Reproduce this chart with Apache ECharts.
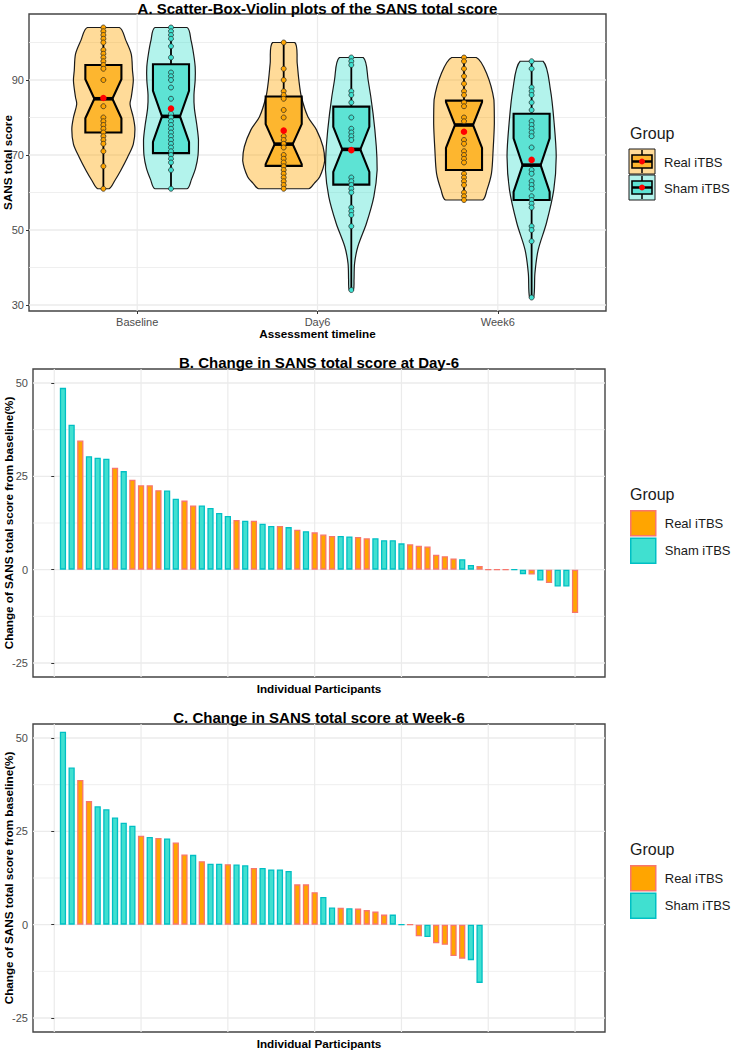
<!DOCTYPE html>
<html><head><meta charset="utf-8">
<script src="https://cdn.jsdelivr.net/npm/echarts@6/dist/echarts.min.js"></script>
<style>html,body{margin:0;padding:0;background:#fff}#c{width:733px;height:1050px}</style>
</head><body><div id="c"></div>
<script>
// ================= DATA =================
const timeLabels = ['Baseline', 'Day6', 'Week6'];
const groupLabels = ['Real iTBS', 'Sham iTBS'];

// Panel A - individual SANS total scores (dots)
const realScoresBaseline = [104, 103, 102, 101, 100, 98, 97, 96, 95, 94, 93, 90, 83, 80, 79, 78, 77, 76, 75, 74, 73, 71, 67, 61];
const realScoresDay6 = [100, 93, 90, 87, 86, 85, 82, 80, 75, 74, 73, 72, 70, 69, 68, 67, 66, 65, 64, 63, 62, 61];
const realScoresWeek6 = [96, 95, 93, 91, 89, 87, 86, 84, 83, 80, 79, 74, 73, 71, 70, 69, 68, 65, 64, 63, 62, 60, 59, 58];
const shamScoresBaseline = [104, 103, 102, 101, 99, 96, 92, 91, 90, 88, 85, 81, 80, 79, 78, 77, 76, 75, 74, 73, 72, 71, 70, 69, 68, 66, 61];
const shamScoresDay6 = [96, 95, 94, 87, 86, 84, 80, 77, 76, 75, 74, 64, 63, 62, 61, 60, 56, 55, 54, 51, 34];
const shamScoresWeek6 = [95, 93, 88, 87, 86, 84, 82, 79, 78, 77, 76, 75, 72, 66, 65, 63, 62, 61, 59, 58, 57, 56, 51, 50, 47, 32];

// Box statistics (Baseline, Day6, Week6)
const realQ1 = [76, 67.1, 66];
const realMedian = [85, 72.9, 78];
const realQ3 = [94, 85.6, 84.5];
const realMean = [85.2, 76.5, 76.2];
const realN = [30, 30, 23];
const shamQ1 = [70.5, 62.1, 58];
const shamMedian = [80.3, 71.5, 67.3];
const shamQ3 = [94.2, 82.9, 81];
const shamMean = [82.4, 71.3, 68.7];
const shamN = [30, 30, 26];

// Violin outlines: [score, relative density]
const realViolinBaseline = [[104, .39], [100.5, .55], [96.9, .68], [92.5, .71], [89.8, .73], [85.4, .68], [83.6, .65], [80, .73], [76.9, .77], [72.9, .73], [69.4, .59], [65.8, .42], [63.2, .28], [61, .14]];
const realViolinDay6 = [[100, .27], [94.4, .33], [90, .37], [85.6, .43], [80.2, .59], [76.7, .8], [72.2, .96], [68.5, 1.0], [64.2, .88], [62.5, .75], [61, .61]];
const realViolinWeek6 = [[96, .3], [91.8, .55], [84.7, .73], [78.4, .74], [71.3, .71], [65.1, .67], [60.7, .56], [58, .45]];
const shamViolinBaseline = [[104, .39], [100.5, .49], [97, .55], [93.5, .59], [90, .59], [86, .56], [82.5, .57], [78, .63], [74, .67], [70, .66], [66.5, .6], [63.5, .5], [61, .39]];
const shamViolinDay6 = [[96, .29], [90, .41], [81.1, .53], [72.2, .61], [66, .63], [58.9, .55], [51.8, .37], [45.6, .16], [41.1, .08], [36.7, .066], [34, .05]];
const shamViolinWeek6 = [[95, .28], [87.3, .46], [78.4, .55], [69.6, .6], [60.7, .54], [51.8, .36], [44.7, .16], [38.4, .08], [32, .05]];

// Panel B - change (%) at Day-6, sorted; R = Real iTBS, S = Sham iTBS
const day6Change = [48.7, 38.8, 34.6, 30.4, 30.0, 29.7, 27.3, 26.4, 24.1, 22.6,
  22.6, 21.3, 21.2, 19.0, 18.5, 17.2, 17.2, 16.5, 15.2, 14.4,
  13.3, 13.1, 13.1, 12.3, 11.7, 11.7, 11.4, 10.7, 10.3, 10.0,
  9.4, 9.0, 9.0, 8.9, 8.75, 8.4, 8.4, 7.9, 7.9, 7.05,
  6.8, 6.4, 6.2, 4.0, 3.6, 3.0, 2.8, 1.25, 1.0, 0,
  0, 0, 0, -1.2, -1.3, -2.9, -3.6, -4.5, -4.5, -11.6];
const day6Group = ['S','S','R','S','S','S','R','S','R','R',
  'R','R','S','S','R','R','S','S','S','S',
  'R','S','R','S','S','R','S','R','S','R',
  'R','R','S','S','R','R','S','S','S','S',
  'R','R','R','R','R','R','S','S','R','R',
  'R','R','S','S','R','S','R','S','S','R'];

// Panel C - change (%) at Week-6
const week6Change = [51.7, 42.1, 38.75, 33.1, 31.7, 30.9, 28.7, 27.3, 26.5, 23.8,
  23.5, 23.2, 23.1, 22.0, 18.8, 18.7, 17.0, 16.3, 16.3, 16.2,
  16.1, 15.9, 15.2, 15.2, 14.8, 14.8, 14.4, 10.8, 10.8, 8.7,
  7.4, 4.6, 4.5, 4.4, 4.3, 3.9, 3.5, 2.7, 2.7, 0,
  0, -3.1, -3.3, -5.0, -5.4, -8.4, -9.1, -9.5, -15.6];
const week6Group = ['S','S','R','R','S','S','S','S','S','R',
  'S','R','S','R','R','S','R','S','S','R',
  'S','S','R','S','S','S','S','R','R','R',
  'S','S','R','S','R','R','R','R','S','S',
  'R','R','S','R','R','R','R','S','S'];

// Axis ticks / grid breaks
const yTicksA = [30, 50, 70, 90];
const yMinorA = [40, 60, 80, 100];
const xTicksA = [1, 2, 3];
const yTicksBC = [-25, 0, 25, 50];
const yMinorBC = [-12.5, 12.5, 37.5];
const xGridBC = [0, 10, 20, 30, 40, 50, 60];

// ================= BUILD =================
const FONT = '"Liberation Sans", Arial, Helvetica, sans-serif';
const dodge = [-0.1875, 0.1875];
const VIOLIN_UNIT = 0.2274;
const BOX_HALF = 0.1;
const violinFill = ['rgba(255,165,0,0.4)', 'rgba(64,224,208,0.4)'];
const boxFill = ['#FDB62F', '#5DE3D4'];
const pointFill = ['#FFA500', '#40E0D0'];
const barFill = ['#FFA500', '#40E0D0'];
const barBorder = ['#F8766D', '#00BFC4'];

const scores = [[realScoresBaseline, realScoresDay6, realScoresWeek6], [shamScoresBaseline, shamScoresDay6, shamScoresWeek6]];
const violins = [[realViolinBaseline, realViolinDay6, realViolinWeek6], [shamViolinBaseline, shamViolinDay6, shamViolinWeek6]];
const boxStats = [
  {q1: realQ1, med: realMedian, q3: realQ3, mean: realMean, n: realN},
  {q1: shamQ1, med: shamMedian, q3: shamQ3, mean: shamMean, n: shamN}
];

const violinItems = [];
for (let g = 0; g < 2; g++) for (let t = 1; t <= 3; t++) violinItems.push([t, g]);

function violinRender(params, api) {
  const t = api.value(0), g = api.value(1);
  const prof = violins[g][t - 1];
  const xc = t + dodge[g];
  const right = prof.map(p => api.coord([xc + p[1] * VIOLIN_UNIT, p[0]]));
  const left = prof.slice().reverse().map(p => api.coord([xc - p[1] * VIOLIN_UNIT, p[0]]));
  const pts = right.concat(left);
  let mnx = Infinity, mny = Infinity, mxx = -Infinity, mxy = -Infinity;
  pts.forEach(p => { mnx = Math.min(mnx, p[0]); mny = Math.min(mny, p[1]); mxx = Math.max(mxx, p[0]); mxy = Math.max(mxy, p[1]); });
  return {type: 'polygon', shape: {points: pts, smooth: 0.3, smoothConstraint: [[mnx, mny], [mxx, mxy]]},
    style: {fill: violinFill[g], stroke: '#1a1a1a', lineWidth: 1.2}};
}

function boxRender(params, api) {
  const t = api.value(0), g = api.value(1), i = t - 1;
  const st = boxStats[g];
  const xc = t + dodge[g];
  const q1 = st.q1[i], med = st.med[i], q3 = st.q3[i];
  const lo = Math.min.apply(null, scores[g][i]), hi = Math.max.apply(null, scores[g][i]);
  const notch = 1.58 * (q3 - q1) / Math.sqrt(st.n[i]);
  const P = (dx, v) => api.coord([xc + dx, v]);
  const bw = BOX_HALF, nw = BOX_HALF / 2;
  const pts = [P(-bw, q3), P(bw, q3), P(bw, med + notch), P(nw, med), P(bw, med - notch), P(bw, q1),
    P(-bw, q1), P(-bw, med - notch), P(-nw, med), P(-bw, med + notch)];
  const a = P(0, hi), b = P(0, q3), c = P(0, q1), d = P(0, lo), m1 = P(-nw, med), m2 = P(nw, med);
  return {type: 'group', children: [
    {type: 'line', shape: {x1: a[0], y1: a[1], x2: b[0], y2: b[1]}, style: {stroke: '#000', lineWidth: 1.8}},
    {type: 'line', shape: {x1: c[0], y1: c[1], x2: d[0], y2: d[1]}, style: {stroke: '#000', lineWidth: 1.8}},
    {type: 'polygon', shape: {points: pts}, style: {fill: boxFill[g], stroke: '#000', lineWidth: 2.1}},
    {type: 'line', shape: {x1: m1[0] - 1, y1: m1[1], x2: m2[0] + 1, y2: m2[1]}, style: {stroke: '#000', lineWidth: 3.6}}
  ]};
}

function gridRender(params, api) {
  const cs = params.coordSys;
  const kind = api.value(2);
  const p = api.coord([api.value(0), api.value(1)]);
  if (kind === 0) {
    return {type: 'line', silent: true, shape: {x1: p[0], y1: cs.y, x2: p[0], y2: cs.y + cs.height}, style: {stroke: '#EBEBEB', lineWidth: 1.2}};
  }
  return {type: 'line', silent: true, shape: {x1: cs.x, y1: p[1], x2: cs.x + cs.width, y2: p[1]},
    style: {stroke: '#EBEBEB', lineWidth: kind === 1 ? 1.3 : 0.8}};
}

function gridItems(xs, yMajor, yMinor, xRef, yRef) {
  const out = [];
  xs.forEach(v => out.push([v, yRef, 0]));
  yMajor.forEach(v => out.push([xRef, v, 1]));
  yMinor.forEach(v => out.push([xRef, v, 2]));
  return out;
}

const pointData = [[], []], meanData = [[], []];
for (let g = 0; g < 2; g++) for (let t = 1; t <= 3; t++) {
  scores[g][t - 1].forEach(v => pointData[g].push([t + dodge[g], v]));
  meanData[g].push([t + dodge[g], boxStats[g].mean[t - 1]]);
}

function barData(values, groups, key) {
  const out = [];
  values.forEach((v, i) => { if (groups[i] === key) out.push([i + 1, v]); });
  return out;
}

const axisLabelStyle = {color: '#4D4D4D', fontSize: 11, fontFamily: FONT};
const tickStyle = {show: true, length: 3, lineStyle: {color: '#333', width: 1}};

function yAxisDef(gi, min, max, ticks) {
  return {type: 'value', gridIndex: gi, min: min, max: max, splitLine: {show: false},
    axisLine: {show: false}, axisTick: Object.assign({customValues: ticks}, tickStyle),
    axisLabel: Object.assign({customValues: ticks, margin: 5}, axisLabelStyle)};
}

const titleText = (txt, x, y) => ({type: 'text', x: x, y: y, style: {text: txt, fill: '#000', font: 'bold 15px ' + FONT, align: 'center', verticalAlign: 'middle'}});
const axisTitle = (txt, x, y, rot) => ({type: 'text', x: x, y: y, rotation: rot ? Math.PI / 2 : 0, style: {text: txt, fill: '#000', font: 'bold 11.7px ' + FONT, align: 'center', verticalAlign: 'middle'}});
const plainText = (txt, x, y, size) => ({type: 'text', x: x, y: y, style: {text: txt, fill: '#1a1a1a', font: size + 'px ' + FONT, align: 'left', verticalAlign: 'middle'}});

function legendKeyA(x0, y0, g) {
  const w = 26, h = 25;
  return [
    {type: 'rect', shape: {x: x0, y: y0, width: w, height: h}, style: {fill: violinFill[g], stroke: '#1a1a1a', lineWidth: 1}},
    {type: 'line', shape: {x1: x0 + w / 2, y1: y0 + 1, x2: x0 + w / 2, y2: y0 + h - 1}, style: {stroke: '#000', lineWidth: 1.5}},
    {type: 'rect', shape: {x: x0 + 3, y: y0 + 6, width: w - 6, height: h - 12}, style: {fill: boxFill[g], stroke: '#000', lineWidth: 1.6}},
    {type: 'line', shape: {x1: x0 + 3, y1: y0 + h / 2, x2: x0 + w - 3, y2: y0 + h / 2}, style: {stroke: '#000', lineWidth: 2.5}},
    {type: 'circle', shape: {cx: x0 + w / 2, cy: y0 + h / 2, r: 3}, style: {fill: '#FF0000'}}
  ];
}

const legendBC = (top) => ({
  orient: 'vertical', left: 630, top: top, padding: 0, itemWidth: 25, itemHeight: 25, itemGap: 1,
  icon: 'rect', selectedMode: false,
  textStyle: {fontSize: 13, color: '#1a1a1a', fontFamily: FONT, padding: [0, 0, 0, 4]},
  data: groupLabels.map((n, g) => ({name: n, itemStyle: {color: barFill[g], borderColor: barBorder[g], borderWidth: 1.5}}))
});

const barSeries = (name, g, axis, values, groups) => ({
  type: 'bar', name: name, xAxisIndex: axis, yAxisIndex: axis,
  data: barData(values, groups, g === 0 ? 'R' : 'S'),
  barWidth: '72%', barGap: '-100%', z: 3,
  itemStyle: {color: barFill[g], borderColor: barBorder[g], borderWidth: 1.3}
});

const option = {
  animation: false,
  backgroundColor: '#fff',
  textStyle: {fontFamily: FONT},
  grid: [
    {left: 29, top: 14, width: 577, height: 297, show: true, borderColor: '#444', borderWidth: 1.4, backgroundColor: '#fff'},
    {left: 33, top: 369, width: 572, height: 308, show: true, borderColor: '#444', borderWidth: 1.4, backgroundColor: '#fff'},
    {left: 33, top: 724, width: 572, height: 308, show: true, borderColor: '#444', borderWidth: 1.4, backgroundColor: '#fff'}
  ],
  xAxis: [
    {type: 'value', gridIndex: 0, min: 0.4, max: 3.6, splitLine: {show: false}, axisLine: {show: false},
      axisTick: Object.assign({customValues: xTicksA}, tickStyle),
      axisLabel: Object.assign({customValues: xTicksA, margin: 5, formatter: v => timeLabels[Math.round(v) - 1]}, axisLabelStyle)},
    {type: 'value', gridIndex: 1, min: -2.45, max: 63.45, show: false, splitLine: {show: false}},
    {type: 'value', gridIndex: 2, min: -2.45, max: 63.45, show: false, splitLine: {show: false}}
  ],
  yAxis: [
    yAxisDef(0, 28.4, 107.6, yTicksA),
    yAxisDef(1, -28.75, 53.75, yTicksBC),
    yAxisDef(2, -28.75, 53.75, yTicksBC)
  ],
  legend: [legendBC(510), legendBC(865)],
  series: [
    {type: 'custom', name: 'gridA', xAxisIndex: 0, yAxisIndex: 0, z: 0, silent: true, renderItem: gridRender,
      data: gridItems(xTicksA, yTicksA, yMinorA, 2, 60), encode: {x: 0, y: 1}},
    {type: 'custom', name: 'gridB', xAxisIndex: 1, yAxisIndex: 1, z: 0, silent: true, renderItem: gridRender,
      data: gridItems(xGridBC, yTicksBC, yMinorBC, 30, 0), encode: {x: 0, y: 1}},
    {type: 'custom', name: 'gridC', xAxisIndex: 2, yAxisIndex: 2, z: 0, silent: true, renderItem: gridRender,
      data: gridItems(xGridBC, yTicksBC, yMinorBC, 30, 0), encode: {x: 0, y: 1}},
    {type: 'custom', name: 'violins', xAxisIndex: 0, yAxisIndex: 0, z: 1, renderItem: violinRender, data: violinItems, encode: {x: 0, y: 1}},
    {type: 'custom', name: 'boxes', xAxisIndex: 0, yAxisIndex: 0, z: 2, renderItem: boxRender, data: violinItems, encode: {x: 0, y: 1}},
    {type: 'scatter', name: 'Real points', xAxisIndex: 0, yAxisIndex: 0, z: 3, symbolSize: 5, data: pointData[0],
      itemStyle: {color: pointFill[0], borderColor: '#222', borderWidth: 0.7, opacity: 1}},
    {type: 'scatter', name: 'Sham points', xAxisIndex: 0, yAxisIndex: 0, z: 3, symbolSize: 5, data: pointData[1],
      itemStyle: {color: pointFill[1], borderColor: '#222', borderWidth: 0.7, opacity: 1}},
    {type: 'scatter', name: 'Real mean', xAxisIndex: 0, yAxisIndex: 0, z: 4, symbolSize: 6.5, data: meanData[0], itemStyle: {color: '#FF0000', opacity: 1}},
    {type: 'scatter', name: 'Sham mean', xAxisIndex: 0, yAxisIndex: 0, z: 4, symbolSize: 6.5, data: meanData[1], itemStyle: {color: '#FF0000', opacity: 1}},
    barSeries('Real iTBS', 0, 1, day6Change, day6Group),
    barSeries('Sham iTBS', 1, 1, day6Change, day6Group),
    barSeries('Real iTBS', 0, 2, week6Change, week6Group),
    barSeries('Sham iTBS', 1, 2, week6Change, week6Group)
  ],
  graphic: [].concat(
    [titleText('A. Scatter-Box-Violin plots of the SANS total score', 317.5, 8),
     titleText('B. Change in SANS total score at Day-6', 319, 362),
     titleText('C. Change in SANS total score at Week-6', 319, 717.5),
     axisTitle('Assessment timeline', 317.5, 333.5, false),
     axisTitle('SANS total score', 7.5, 162.5, true),
     axisTitle('Individual Participants', 319, 688, false),
     axisTitle('Change of SANS total score from baseline(%)', 8, 523, true),
     axisTitle('Individual Participants', 319, 1043, false),
     axisTitle('Change of SANS total score from baseline(%)', 8, 878, true),
     plainText('Group', 630, 133, 16),
     plainText('Group', 630, 494, 16),
     plainText('Group', 630, 849, 16),
     plainText(groupLabels[0], 664, 162, 13),
     plainText(groupLabels[1], 664, 188, 13)],
    legendKeyA(629, 149, 0),
    legendKeyA(629, 175, 1)
  )
};

const chart = echarts.init(document.getElementById('c'), null, {renderer: 'svg', width: 733, height: 1050});
chart.setOption(option);
</script>
</body></html>
